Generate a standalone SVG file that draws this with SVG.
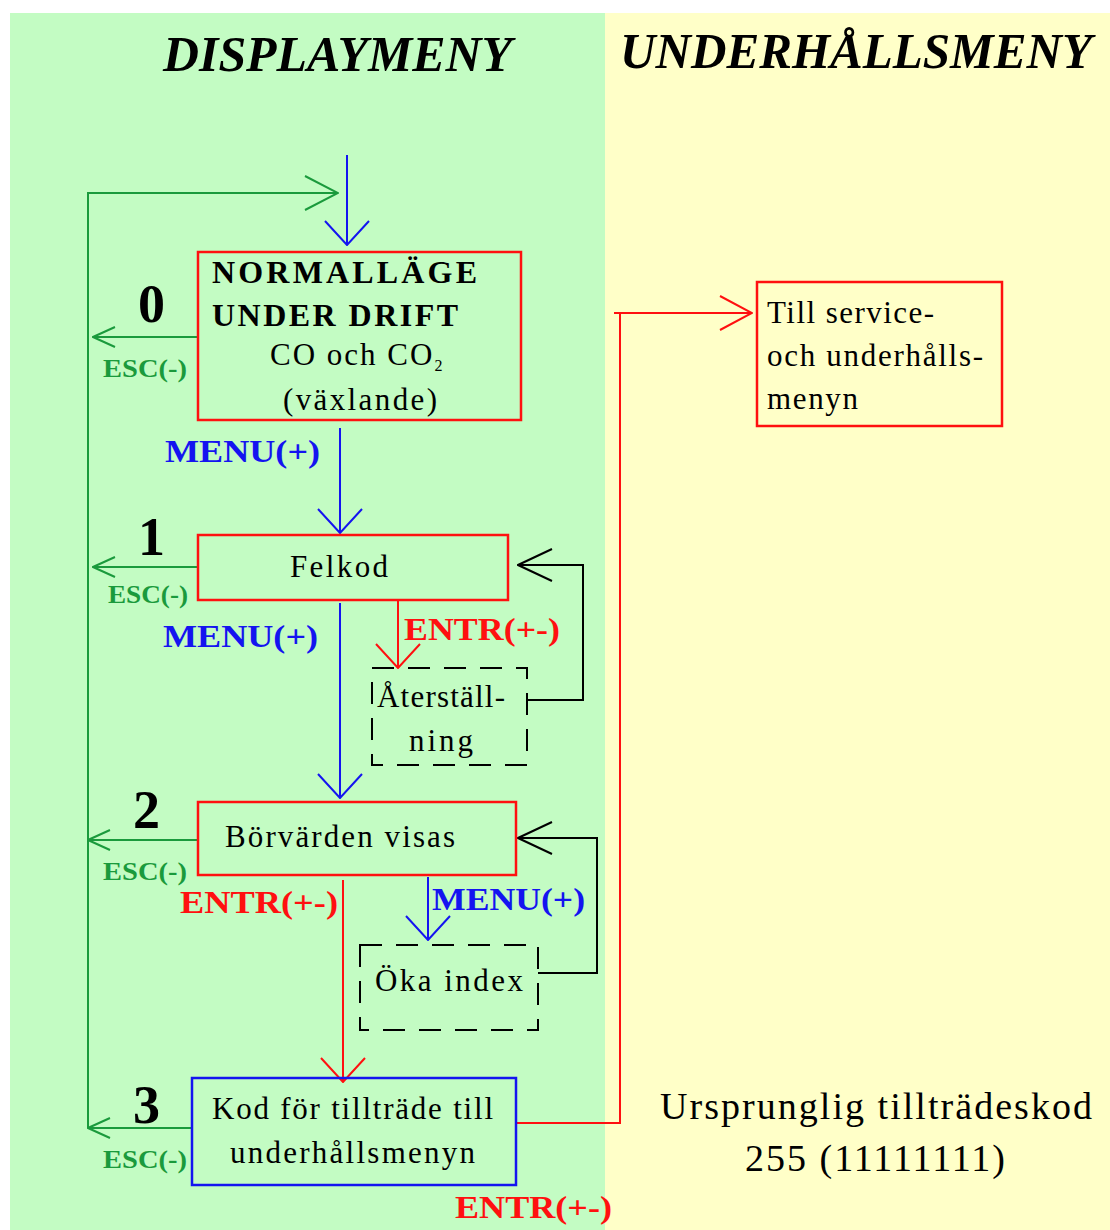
<svg xmlns="http://www.w3.org/2000/svg" width="1110" height="1230" viewBox="0 0 1110 1230">
<style>
.hdr{font-family:"Liberation Serif",serif;font-weight:bold;font-style:italic;font-size:50px;fill:#000}
.t{font-family:"Liberation Serif",serif;font-size:31px;fill:#000}
.big{font-size:38px}
.tb{font-family:"Liberation Serif",serif;font-weight:bold;font-size:32px;fill:#000}
.num{font-family:"Liberation Serif",serif;font-weight:bold;font-size:54px;fill:#000}
.esc{font-family:"Liberation Serif",serif;font-weight:bold;font-size:26px;fill:#1a9a3c}
.menu{font-family:"Liberation Serif",serif;font-weight:bold;font-size:32px;fill:#1414f0}
.entr{font-family:"Liberation Serif",serif;font-weight:bold;font-size:32px;fill:#ff1010}
.box{fill:none;stroke-width:2.5}
.dash{fill:none;stroke:#000;stroke-width:2;stroke-dasharray:22 14}
.g{fill:none;stroke:#1a9a3c;stroke-width:2}
.b{fill:none;stroke:#1414f0;stroke-width:2}
.r{fill:none;stroke:#ff1010;stroke-width:2}
.k{fill:none;stroke:#000;stroke-width:2}
</style>
<defs>
<marker id="ag" viewBox="0 0 36 36" refX="35" refY="18" markerWidth="36" markerHeight="36" markerUnits="userSpaceOnUse" orient="auto"><path d="M2,1 L35,18 L2,35" fill="none" stroke="#1a9a3c" stroke-width="2"/></marker>
<marker id="ags" viewBox="0 0 24 24" refX="23" refY="12" markerWidth="24" markerHeight="24" markerUnits="userSpaceOnUse" orient="auto"><path d="M1,2 L23,12 L1,22" fill="none" stroke="#1a9a3c" stroke-width="2"/></marker>
<marker id="ab" viewBox="0 0 26 46" refX="25" refY="23" markerWidth="26" markerHeight="46" markerUnits="userSpaceOnUse" orient="auto"><path d="M1,1 L25,23 L1,45" fill="none" stroke="#1414f0" stroke-width="2"/></marker>
<marker id="ar" viewBox="0 0 26 46" refX="25" refY="23" markerWidth="26" markerHeight="46" markerUnits="userSpaceOnUse" orient="auto"><path d="M1,1 L25,23 L1,45" fill="none" stroke="#ff1010" stroke-width="2"/></marker>
<marker id="ark" viewBox="0 0 34 36" refX="33" refY="18" markerWidth="34" markerHeight="36" markerUnits="userSpaceOnUse" orient="auto"><path d="M1,1 L33,18 L1,35" fill="none" stroke="#ff1010" stroke-width="2"/></marker>
<marker id="ak" viewBox="0 0 36 36" refX="35" refY="18" markerWidth="36" markerHeight="36" markerUnits="userSpaceOnUse" orient="auto"><path d="M1,2 L35,18 L1,34" fill="none" stroke="#000" stroke-width="2"/></marker>
</defs>
<rect x="0" y="0" width="1110" height="1230" fill="#fff"/>
<rect x="10" y="13" width="595" height="1217" fill="#c3fcc3"/>
<rect x="605" y="13" width="505" height="1217" fill="#ffffc8"/>
<g id="headers">
<text class="hdr" x="163" y="71" textLength="349" lengthAdjust="spacingAndGlyphs">DISPLAYMENY</text>
<text class="hdr" x="620" y="68" textLength="472" lengthAdjust="spacingAndGlyphs">UNDERHÅLLSMENY</text>
</g>
<g id="connectors">
<path class="g" d="M88,1128 V193 H338" marker-end="url(#ag)"/>
<path class="g" d="M198,337 H93" marker-end="url(#ags)"/>
<path class="g" d="M198,567 H93" marker-end="url(#ags)"/>
<path class="g" d="M198,840 H88" marker-end="url(#ags)"/>
<path class="g" d="M192,1128 H88" marker-end="url(#ags)"/>
<path class="b" d="M347,155 V245" marker-end="url(#ab)"/>
<path class="b" d="M340,428 V533" marker-end="url(#ab)"/>
<path class="b" d="M340,603 V798" marker-end="url(#ab)"/>
<path class="b" d="M428,877 V940" marker-end="url(#ab)"/>
<path class="r" d="M398,600 V668" marker-end="url(#ar)"/>
<path class="r" d="M343,880 V1082" marker-end="url(#ar)"/>
<path class="r" d="M516,1123 H620 V313 H752" marker-end="url(#ark)"/>
<path class="r" d="M614,313 H620"/>
<path class="k" d="M527,700 H583 V565 H518" marker-end="url(#ak)"/>
<path class="k" d="M538,973 H597 V838 H518" marker-end="url(#ak)"/>
</g>
<g id="labels">
<text class="esc" x="103" y="377" textLength="84" lengthAdjust="spacingAndGlyphs">ESC(-)</text>
<text class="esc" x="108" y="603" textLength="80" lengthAdjust="spacingAndGlyphs">ESC(-)</text>
<text class="esc" x="103" y="880" textLength="84" lengthAdjust="spacingAndGlyphs">ESC(-)</text>
<text class="esc" x="103" y="1168" textLength="84" lengthAdjust="spacingAndGlyphs">ESC(-)</text>
<text class="menu" x="165" y="462" textLength="155" lengthAdjust="spacingAndGlyphs">MENU(+)</text>
<text class="menu" x="163" y="647" textLength="155" lengthAdjust="spacingAndGlyphs">MENU(+)</text>
<text class="menu" x="432" y="910" textLength="153" lengthAdjust="spacingAndGlyphs">MENU(+)</text>
<text class="entr" x="404" y="640" textLength="156" lengthAdjust="spacingAndGlyphs">ENTR(+-)</text>
<text class="entr" x="180" y="913" textLength="158" lengthAdjust="spacingAndGlyphs">ENTR(+-)</text>
<text class="entr" x="455" y="1218" textLength="157" lengthAdjust="spacingAndGlyphs">ENTR(+-)</text>
</g>
<g id="node0">
<rect class="box" x="198" y="252" width="323" height="168" stroke="#ff1010"/>
<text class="num" x="138" y="322">0</text>
<text class="tb" x="212" y="283" textLength="265" lengthAdjust="spacing">NORMALLÄGE</text>
<text class="tb" x="212" y="326" textLength="246" lengthAdjust="spacing">UNDER  DRIFT</text>
<text class="t" x="270" y="365" letter-spacing="2">CO och CO<tspan font-size="16" dy="6">2</tspan></text>
<text class="t" x="283" y="410" textLength="154" lengthAdjust="spacing">(växlande)</text>
</g>
<g id="node1">
<rect class="box" x="198" y="535" width="310" height="65" stroke="#ff1010"/>
<text class="num" x="138" y="555">1</text>
<text class="t" x="290" y="577" textLength="98" lengthAdjust="spacing">Felkod</text>
</g>
<g id="reset">
<rect class="dash" x="372" y="668" width="155" height="97"/>
<text class="t" x="377" y="707" textLength="128" lengthAdjust="spacing">Återställ-</text>
<text class="t" x="409" y="751" textLength="64" lengthAdjust="spacing">ning</text>
</g>
<g id="node2">
<rect class="box" x="198" y="802" width="318" height="73" stroke="#ff1010"/>
<text class="num" x="133" y="828">2</text>
<text class="t" x="225" y="847" textLength="230" lengthAdjust="spacing">Börvärden visas</text>
</g>
<g id="index">
<rect class="dash" x="360" y="945" width="178" height="85"/>
<text class="t" x="375" y="991" textLength="148" lengthAdjust="spacing">Öka index</text>
</g>
<g id="node3">
<rect class="box" x="192" y="1078" width="324" height="107" stroke="#1414f0"/>
<text class="num" x="133" y="1123">3</text>
<text class="t" x="212" y="1119" textLength="281" lengthAdjust="spacing">Kod för tillträde till</text>
<text class="t" x="230" y="1163" textLength="245" lengthAdjust="spacing">underhållsmenyn</text>
</g>
<g id="service">
<rect class="box" x="757" y="282" width="245" height="144" stroke="#ff1010"/>
<text class="t" x="767" y="323" textLength="167" lengthAdjust="spacing">Till service-</text>
<text class="t" x="767" y="366" textLength="216" lengthAdjust="spacing">och underhålls-</text>
<text class="t" x="767" y="409" textLength="91" lengthAdjust="spacing">menyn</text>
</g>
<g id="note">
<text class="t big" x="660" y="1119" textLength="432" lengthAdjust="spacing">Ursprunglig tillträdeskod</text>
<text class="t big" x="745" y="1171" textLength="260" lengthAdjust="spacing">255 (11111111)</text>
</g>
</svg>
